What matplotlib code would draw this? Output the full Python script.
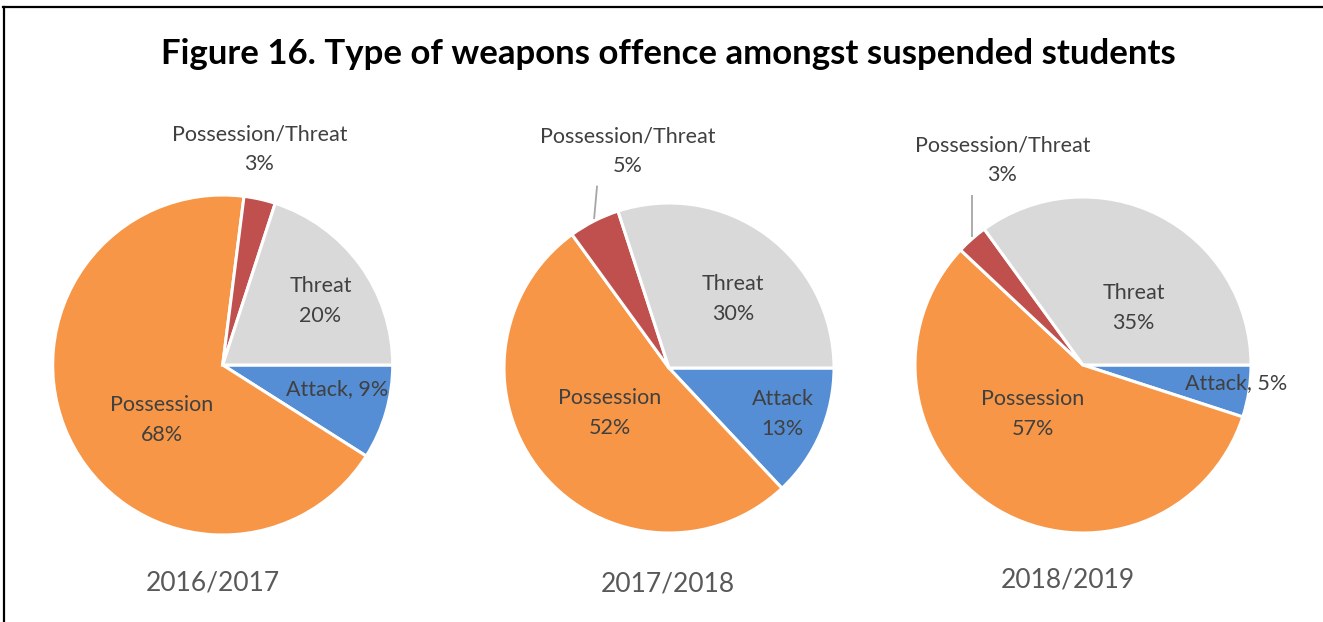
import numpy as np
import matplotlib.pyplot as plt

# Weapons offence shares (%) by school year
categories = ["Attack", "Possession", "Possession/Threat", "Threat"]
years = ["2016/2017", "2017/2018", "2018/2019"]
share_2016_17 = [9, 68, 3, 20]
share_2017_18 = [13, 52, 5, 30]
share_2018_19 = [5, 57, 3, 35]
shares = [share_2016_17, share_2017_18, share_2018_19]

colors = ["#558ED5", "#F79646", "#C0504D", "#D9D9D9"]
text_color = "#404040"
FONT = "Lato"

W, H = 1323, 622
fig = plt.figure(figsize=(W / 100, H / 100), dpi=100)
ax = fig.add_axes([0, 0, 1, 1])

# pie layout in pixel space (y measured from the top)
centers = [(222.7, 365), (669, 368), (1083, 365)]
radii = [170, 165, 168]

# label anchor offsets from each centre, in radius units (x right, y up),
# and the joiner between category name and value
label_layout = [
    {"Attack": (0.675, -0.14, ", "), "Possession": (-0.36, -0.325, "\n"),
     "Possession/Threat": (0.215, 1.27, "\n"), "Threat": (0.575, 0.375, "\n")},
    {"Attack": (0.69, -0.28, "\n"), "Possession": (-0.36, -0.27, "\n"),
     "Possession/Threat": (-0.25, 1.315, "\n"), "Threat": (0.39, 0.42, "\n")},
    {"Attack": (0.91, -0.107, ", "), "Possession": (-0.30, -0.29, "\n"),
     "Possession/Threat": (-0.48, 1.22, "\n"), "Threat": (0.30, 0.34, "\n")},
]
leader_lines = [False, True, True]
year_offsets = [(-10, 218), (-1, 216), (-15, 215)]

for k, vals in enumerate(shares):
    cx, cy_img = centers[k]
    cy = H - cy_img
    r = radii[k]
    wedges, _ = ax.pie(vals, colors=colors, startangle=0, counterclock=False,
                       center=(cx, cy), radius=r,
                       wedgeprops=dict(edgecolor="white", linewidth=2.2))
    for i, cat in enumerate(categories):
        dx, dy, sep = label_layout[k][cat]
        tx, ty = cx + dx * r, cy + dy * r
        ax.text(tx, ty, f"{cat}{sep}{vals[i]}%", ha="center", va="center",
                fontsize=15.5, family=FONT, color=text_color, linespacing=1.62)
        if cat == "Possession/Threat" and leader_lines[k]:
            w = wedges[i]
            mid = np.deg2rad((w.theta1 + w.theta2) / 2)
            ex, ey = cx + r * np.cos(mid), cy + r * np.sin(mid)
            ax.plot([ex + 3 * (k == 1), ex], [ty - 0.21 * r, ey + 2],
                    color="#A6A6A6", lw=1.3, solid_capstyle="butt")
    ox, oy = year_offsets[k]
    ax.text(cx + ox, cy - oy, years[k], ha="center", va="center",
            fontsize=19, family=FONT, color="#595959")

ax.text(668, H - 54, "Figure 16. Type of weapons offence amongst suspended students",
        ha="center", va="center", fontsize=25, family=FONT, fontweight="bold",
        color="black")

# outer frame (top and left edges)
ax.plot([3, W], [H - 7, H - 7], color="black", lw=1.6, clip_on=False)
ax.plot([4, 4], [H - 7, 0], color="black", lw=1.6, clip_on=False)

ax.set_xlim(0, W)
ax.set_ylim(0, H)
ax.set_aspect("equal")
ax.axis("off")

fig.savefig("out.png", dpi=100, facecolor="white")
